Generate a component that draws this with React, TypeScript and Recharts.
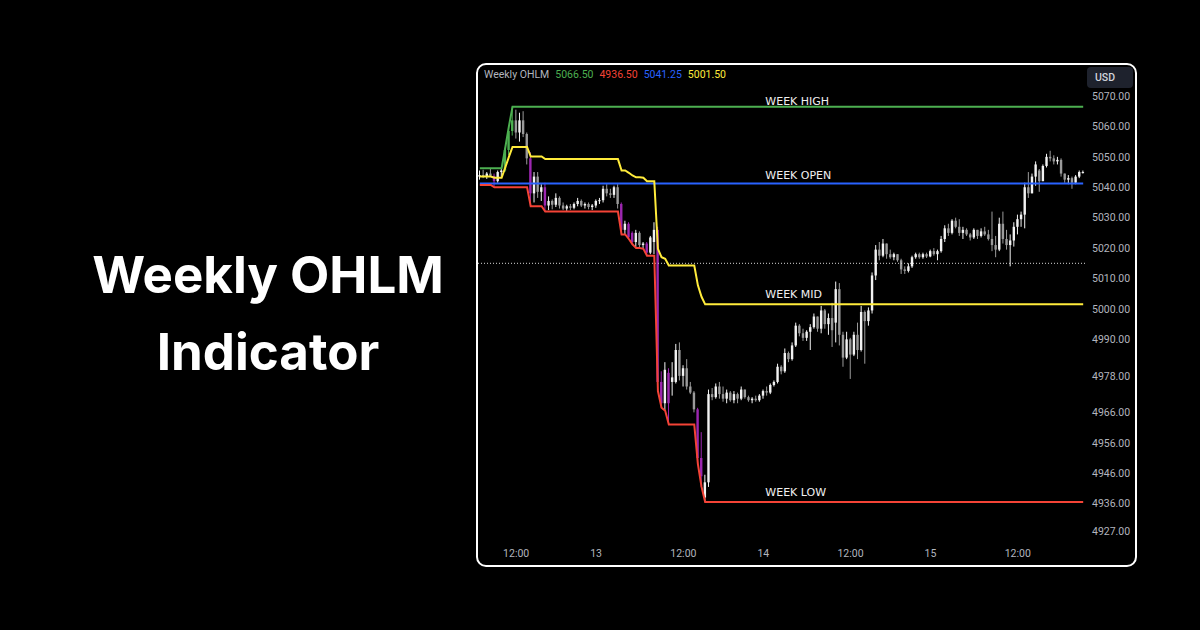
import React from 'react';
import {
  ComposedChart,
  Bar,
  Line,
  XAxis,
  YAxis,
  ReferenceLine,
  ReferenceDot,
} from 'recharts';

// 30-minute candles: [open, high, low, close]
const candles: [number, number, number, number][] = [
  [5043.5, 5045.5, 5042.5, 5044], [5044, 5045.75, 5043, 5043.5], [5043.5, 5045, 5042.75, 5044.5],
  [5044.5, 5046, 5043.5, 5043.75], [5043.75, 5044.5, 5040, 5042], [5042, 5045.5, 5041.5, 5045],
  [5045, 5046, 5043.5, 5045.5], [5045.5, 5053, 5045, 5052.25], [5052.25, 5060, 5050.5, 5058.5],
  [5058.5, 5066.5, 5057, 5062], [5062, 5065.5, 5056, 5058], [5058, 5064.5, 5055, 5062],
  [5062, 5065, 5056.5, 5057.5], [5057.5, 5058, 5047.5, 5049.5], [5049.5, 5051.5, 5033.75, 5038],
  [5038, 5045, 5035, 5043.5], [5043.5, 5045, 5036.5, 5038.5], [5038.5, 5041, 5035.5, 5040],
  [5040, 5041.5, 5032, 5034], [5034, 5037, 5032.5, 5035.5], [5035.5, 5036, 5032.75, 5034.25],
  [5034.25, 5038, 5033.5, 5036.5], [5036.5, 5037, 5033, 5034], [5034, 5035, 5032.5, 5033],
  [5033, 5034.25, 5032.25, 5033.75], [5033.75, 5034.5, 5032.5, 5033.25], [5033.25, 5035, 5032.75, 5034.5],
  [5034.5, 5036.5, 5033.75, 5035.5], [5035.5, 5036, 5033.5, 5034], [5034, 5035, 5033, 5034.5],
  [5034.5, 5035, 5032.75, 5033.5], [5033.5, 5034.5, 5032.5, 5034], [5034, 5036, 5033.25, 5035.5],
  [5035.5, 5036.5, 5034.5, 5035.75], [5035.75, 5040.5, 5035, 5039.5], [5039.5, 5041, 5037, 5038],
  [5038, 5039.5, 5036.5, 5037.5], [5037.5, 5040.5, 5036.5, 5040], [5040, 5041, 5033, 5034.5],
  [5034.5, 5035, 5024.5, 5026], [5026, 5029, 5024.5, 5028], [5028, 5028.5, 5023, 5023.5],
  [5025, 5025.5, 5021.25, 5022], [5022, 5026, 5020, 5025], [5025, 5025.5, 5020.25, 5021],
  [5021, 5022, 5019.75, 5021.5], [5021.5, 5022, 5017.5, 5018.5], [5018.5, 5024, 5018, 5023.5],
  [5022, 5028.5, 5018, 5026], [5026, 5027, 4973, 4976], [4976, 4979.5, 4967.5, 4969],
  [4969, 4982.5, 4966.5, 4980], [4979, 4980.5, 4962, 4969], [4976, 4982.5, 4971.5, 4977.5],
  [4976, 4988.5, 4975.5, 4986.5], [4986.5, 4989, 4976.5, 4978], [4978, 4981.5, 4974.5, 4980.5],
  [4980.5, 4983.5, 4973.5, 4974.5], [4974.5, 4976, 4972, 4972.5], [4972.5, 4973, 4966, 4967],
  [4967, 4967.5, 4949, 4951], [4951, 4959.5, 4941.5, 4945], [4938, 4945.5, 4936.5, 4943],
  [4943, 4973.5, 4941.5, 4972], [4972, 4974, 4970, 4971], [4971, 4975.5, 4970.5, 4974.5],
  [4974.5, 4976, 4970.5, 4972], [4972, 4974.5, 4969.5, 4970.5], [4970.5, 4973.5, 4969, 4972.5],
  [4972.5, 4973, 4969.5, 4970], [4970, 4973, 4969, 4972], [4972, 4972.5, 4969, 4970.5],
  [4970.5, 4974.5, 4970, 4973.5], [4973.5, 4973.5, 4970.5, 4971], [4971, 4971.5, 4969.5, 4970],
  [4970, 4971, 4969, 4970.5], [4970.5, 4971.5, 4969.5, 4970], [4970, 4972, 4969.5, 4971.5],
  [4971.5, 4973.5, 4970.5, 4973], [4973, 4974.5, 4971.5, 4972.5], [4972.5, 4975.5, 4972, 4975],
  [4975, 4976.5, 4974.5, 4976], [4976, 4982, 4975.5, 4981], [4981, 4981.5, 4978.5, 4979.5],
  [4979.5, 4987, 4979, 4985.5], [4985.5, 4986, 4982.5, 4983.5], [4983.5, 4989, 4983, 4988],
  [4988, 4995.5, 4987.5, 4994.5], [4994.5, 4995, 4991, 4992], [4992, 4993.5, 4989.5, 4990.5],
  [4990.5, 4993, 4989.5, 4992.5], [4992.5, 4995, 4986.5, 4994], [4994, 4998.5, 4993.5, 4997.5],
  [4997.5, 4997.5, 4992.5, 4993.5], [4993.5, 5001, 4992, 4999.5], [4999.5, 5000, 4993.5, 4995],
  [4995, 4998.5, 4991.5, 4997], [4997, 5002, 4987.5, 4993], [4995.5, 5009, 4989, 5006.5],
  [5006.5, 5008.5, 4988, 4991.5], [4991.5, 4992.5, 4981, 4984], [4984, 4992.5, 4983.5, 4990],
  [4990, 4990.5, 4977, 4985], [4985, 4992.5, 4984.5, 4991.5], [4991.5, 4995.5, 4983.5, 4986.5],
  [4986.5, 5001, 4986, 4999], [4999, 4999.5, 4982, 4996], [4996, 5000.5, 4994.5, 4999.5],
  [4999.5, 5012, 4998.5, 5011], [5011, 5021, 5009.5, 5019.5], [5019.5, 5022, 5016, 5017.5],
  [5017.5, 5023, 5017, 5021.5], [5021.5, 5021.5, 5016.5, 5018], [5018, 5019.5, 5016.5, 5017],
  [5017, 5018.5, 5016, 5018], [5018, 5018, 5015.5, 5016], [5016, 5016.5, 5011.5, 5013],
  [5013, 5014, 5011.5, 5012.5], [5012.5, 5015, 5012, 5014], [5014, 5017.5, 5013.5, 5017],
  [5017, 5018.5, 5016.5, 5018], [5018, 5018.5, 5016.5, 5017], [5017, 5018.5, 5016.5, 5018],
  [5018, 5018.5, 5016.75, 5017.25], [5017.25, 5019.5, 5017, 5019], [5019, 5020, 5017.5, 5018],
  [5018, 5019.5, 5016, 5019], [5019, 5024, 5018.5, 5023], [5023, 5027.5, 5022, 5026.5],
  [5026.5, 5028, 5024, 5025], [5025, 5029.5, 5024.5, 5029], [5029, 5030, 5026.5, 5027],
  [5027, 5029.5, 5024, 5025], [5025, 5027, 5023, 5026], [5026, 5026.5, 5024, 5024.5],
  [5024.5, 5025, 5022.5, 5023.5], [5023.5, 5026.5, 5023, 5026], [5026, 5026, 5023, 5024],
  [5024, 5026.5, 5023.5, 5025.5], [5025.5, 5027, 5024, 5024.5], [5024.5, 5026, 5022.5, 5023],
  [5023, 5032, 5019, 5021], [5021, 5024, 5017, 5019.5], [5019.5, 5030, 5019, 5028],
  [5028, 5032, 5021.5, 5023], [5023, 5026, 5019.5, 5021], [5021, 5024.5, 5014, 5022.5],
  [5022.5, 5028.5, 5020.5, 5027], [5027, 5031, 5024.5, 5029.5], [5029.5, 5032, 5027, 5031],
  [5031, 5041.5, 5026.5, 5040], [5040, 5045, 5036.5, 5038], [5038, 5044.5, 5038, 5043.5],
  [5043.5, 5048.5, 5040.5, 5047.5], [5045.5, 5046, 5038.5, 5042], [5042, 5047.5, 5042, 5047],
  [5047, 5051, 5046.5, 5050], [5050, 5052, 5048.5, 5049.5], [5049.5, 5050.5, 5047.5, 5048.5],
  [5048.5, 5050, 5047.5, 5049], [5049, 5049.5, 5043.5, 5044.5], [5044.5, 5044.5, 5041.5, 5042.5],
  [5042.5, 5044, 5041, 5043], [5043, 5043.5, 5039.5, 5041.5], [5041.5, 5044, 5041, 5043.5],
  [5043.5, 5045.5, 5043, 5045], [5045, 5045.5, 5044.5, 5045],
];

// Week open and the high/low already set earlier in the week
const weekOpen = 5041.25;
const priorWeekHigh = 5046.25;
const priorWeekLow = 5040.75;
const lastPriceLine = 5015;

const timeTicks = [10, 32, 56, 78, 102, 124, 148];
const timeTickLabels = ['12:00', '13', '12:00', '14', '12:00', '15', '12:00'];
const priceTicks = [5070, 5060, 5050, 5040, 5030, 5020, 5010, 5000, 4990, 4978, 4966, 4956, 4946, 4936, 4927];
const priceDomain: [number, number] = [4922.4, 5079.86];
const levelLabelIndex = 78;

const GREEN = '#4caf50';
const RED = '#f44336';
const BLUE = '#2962ff';
const YELLOW = '#ffeb3b';
const PURPLE = '#9c27b0';
const UP = '#f2f2f2';
const DOWN = '#9a9a9a';
const AXIS_TEXT = '#b2b5be';

// Running weekly high / low / mid alongside each candle
let runHigh = priorWeekHigh;
let runLow = priorWeekLow;
const rows = candles.map(([o, h, l, c], i) => {
  const newHigh = h > runHigh;
  const newLow = l < runLow;
  runHigh = Math.max(runHigh, h);
  runLow = Math.min(runLow, l);
  return {
    i,
    o,
    h,
    l,
    c,
    range: [l, h],
    newHigh,
    newLow,
    wkHigh: runHigh,
    wkLow: runLow,
    wkMid: (runHigh + runLow) / 2,
    wkOpen: weekOpen,
  };
});
const last = rows[rows.length - 1];

const Candle = (props: any) => {
  const { x, y, width, height, payload } = props;
  if (!payload) return null;
  const { o, h, l, c, newHigh, newLow } = payload;
  const top = Math.min(y, y + height);
  const bottom = Math.max(y, y + height);
  const k = (bottom - top) / (h - l);
  const py = (v: number) => top + (h - v) * k;
  const cx = x + width / 2;
  const up = c >= o;
  const color = newLow && !up ? PURPLE : newHigh && up ? GREEN : up ? UP : DOWN;
  const bt = py(Math.max(o, c));
  const bb = py(Math.min(o, c));
  return (
    <g>
      <rect x={cx - 0.5} y={top} width={1} height={Math.max(1, bottom - top)} fill={color} />
      <rect x={cx - 1.2} y={bt} width={2.4} height={Math.max(1, bb - bt)} fill={color} />
    </g>
  );
};

const levelLabel = (text: string, lift: number) => (p: any) => (
  <text
    x={p.viewBox.x + 2}
    y={p.viewBox.y - lift}
    fill="#f0f0f0"
    fontSize={11}
    fontFamily="'DejaVu Sans', sans-serif"
    textAnchor="start"
  >
    {text}
  </text>
);

const tickStyle = { fill: AXIS_TEXT, fontSize: 10.5, fontFamily: 'Roboto, sans-serif' };

export default function App() {
  return (
    <div
      style={{
        position: 'absolute',
        left: 0,
        top: 0,
        width: 1200,
        height: 630,
        background: '#000',
        overflow: 'hidden',
      }}
    >
      <div
        style={{
          position: 'absolute',
          left: 0,
          top: 236,
          width: 536,
          textAlign: 'center',
          color: '#fff',
          fontFamily: 'Inter, sans-serif',
          fontWeight: 700,
          fontSize: 51,
          lineHeight: '77px',
        }}
      >
        Weekly OHLM
        <br />
        Indicator
      </div>

      <div
        style={{
          position: 'absolute',
          left: 476,
          top: 63,
          width: 661,
          height: 504,
          border: '2px solid #fff',
          borderRadius: 10,
          boxSizing: 'border-box',
          background: '#000',
          overflow: 'hidden',
        }}
      >
        <ComposedChart
          width={657}
          height={500}
          data={rows}
          margin={{ top: 1, right: 0, bottom: 0, left: 0 }}
        >
          <XAxis
            dataKey="i"
            type="category"
            ticks={timeTicks}
            interval={0}
            tickFormatter={(v: number) => timeTickLabels[timeTicks.indexOf(v)] ?? ''}
            tickLine={false}
            axisLine={false}
            tickSize={0}
            tickMargin={5}
            height={20}
            tick={tickStyle}
          />
          <YAxis
            orientation="right"
            type="number"
            domain={priceDomain}
            allowDataOverflow
            ticks={priceTicks}
            interval={0}
            tickFormatter={(v: number) => v.toFixed(2)}
            tickLine={false}
            axisLine={false}
            tickSize={0}
            tickMargin={7}
            width={50}
            tick={tickStyle}
          />
          <ReferenceLine y={lastPriceLine} stroke="#d8d8d8" strokeDasharray="1 2" strokeWidth={1} />
          <Bar dataKey="range" barSize={3} shape={Candle} isAnimationActive={false} />
          <Line dataKey="wkOpen" type="linear" stroke={BLUE} strokeWidth={2} dot={false} isAnimationActive={false} />
          <Line dataKey="wkMid" type="linear" stroke={YELLOW} strokeWidth={2} dot={false} isAnimationActive={false} />
          <Line dataKey="wkHigh" type="linear" stroke={GREEN} strokeWidth={2} dot={false} isAnimationActive={false} />
          <Line dataKey="wkLow" type="linear" stroke={RED} strokeWidth={2} dot={false} isAnimationActive={false} />
          <ReferenceDot x={levelLabelIndex} y={last.wkHigh} r={0} stroke="none" label={levelLabel('WEEK HIGH', 2)} />
          <ReferenceDot x={levelLabelIndex} y={last.wkOpen} r={0} stroke="none" label={levelLabel('WEEK OPEN', 4.5)} />
          <ReferenceDot x={levelLabelIndex} y={last.wkMid} r={0} stroke="none" label={levelLabel('WEEK MID', 6.5)} />
          <ReferenceDot x={levelLabelIndex} y={last.wkLow} r={0} stroke="none" label={levelLabel('WEEK LOW', 6.5)} />
        </ComposedChart>

        <div
          style={{
            position: 'absolute',
            left: 6,
            top: 3,
            fontFamily: 'Roboto, sans-serif',
            fontSize: 10.5,
            lineHeight: '14px',
            whiteSpace: 'pre',
          }}
        >
          <span style={{ color: AXIS_TEXT }}>Weekly OHLM</span>
          <span style={{ color: GREEN, marginLeft: 6 }}>{last.wkHigh.toFixed(2)}</span>
          <span style={{ color: RED, marginLeft: 6 }}>{last.wkLow.toFixed(2)}</span>
          <span style={{ color: BLUE, marginLeft: 6 }}>{last.wkOpen.toFixed(2)}</span>
          <span style={{ color: YELLOW, marginLeft: 6 }}>{last.wkMid.toFixed(2)}</span>
        </div>

        <div
          style={{
            position: 'absolute',
            left: 609,
            top: 2,
            width: 46,
            height: 21,
            borderRadius: 4,
            background: '#1e222d',
            color: '#d1d4dc',
            fontFamily: 'Roboto, sans-serif',
            fontSize: 10.5,
            fontWeight: 500,
            lineHeight: '21px',
            paddingLeft: 8,
            boxSizing: 'border-box',
          }}
        >
          USD
        </div>
      </div>
    </div>
  );
}
